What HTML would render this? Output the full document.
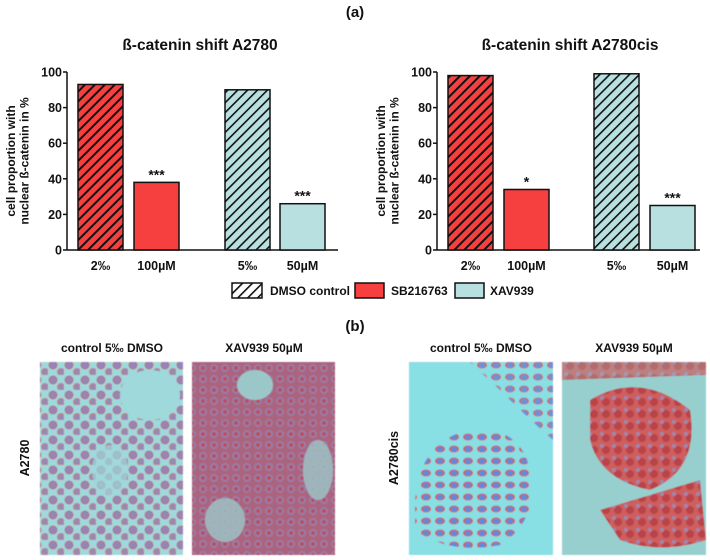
<!DOCTYPE html>
<html><head><meta charset="utf-8"><style>
html,body{margin:0;padding:0;background:#fff;}
svg{display:block;font-family:"Liberation Sans",Arial,sans-serif;}
.t{font-weight:bold;fill:#111;}
</style></head><body>
<svg id="fig" width="710" height="560" viewBox="0 0 710 560" xmlns="http://www.w3.org/2000/svg">
<defs>
<pattern id="hR" width="7" height="7" patternUnits="userSpaceOnUse" patternTransform="rotate(45)">
<rect width="7" height="7" fill="#f64040"/><rect width="2" height="7" fill="#111"/></pattern>
<pattern id="hC" width="7" height="7" patternUnits="userSpaceOnUse" patternTransform="rotate(45)">
<rect width="7" height="7" fill="#b9e0e0"/><rect width="1.6" height="7" fill="#111"/></pattern>
<pattern id="hW" width="7" height="7" patternUnits="userSpaceOnUse" patternTransform="rotate(45)">
<rect width="7" height="7" fill="#fff"/><rect width="1.6" height="7" fill="#111"/></pattern>
<pattern id="cells1" width="16" height="15" patternUnits="userSpaceOnUse">
<circle cx="5" cy="5" r="4.5" fill="#c0305a" opacity="0.8"/><circle cx="5" cy="5" r="3" fill="#8a6fb5" opacity="0.9"/>
<circle cx="13" cy="12" r="4" fill="#d0304a" opacity="0.7"/><circle cx="13" cy="12" r="2.6" fill="#9070b0" opacity="0.9"/></pattern>
<pattern id="cells2" width="11" height="11" patternUnits="userSpaceOnUse">
<rect width="11" height="11" fill="#b04a6a"/><circle cx="5" cy="5" r="4" fill="#9a6aa0"/><circle cx="5" cy="5" r="2" fill="#c03040"/></pattern>
<pattern id="cells3" width="14" height="12" patternUnits="userSpaceOnUse">
<ellipse cx="6" cy="5" rx="5" ry="3.5" fill="#e23a3a"/><ellipse cx="6" cy="5" rx="3.3" ry="2.6" fill="#5a7ad8"/></pattern>
<pattern id="cells4" width="12" height="12" patternUnits="userSpaceOnUse">
<rect width="12" height="12" fill="#d64a4a"/><circle cx="6" cy="6" r="4" fill="#c02a30"/><circle cx="2" cy="2" r="2" fill="#a07aa8"/></pattern>
<filter id="blur"><feGaussianBlur stdDeviation="0.6"/></filter>
</defs>

<text class="t" x="355" y="17" font-size="15" text-anchor="middle">(a)</text>

<g id="chartL"></g>
<g id="chartR"></g>

<g>
<rect x="232" y="283" width="30" height="15" fill="url(#hW)" stroke="#111" stroke-width="1.5"/>
<text class="t" x="270" y="295" font-size="12">DMSO control</text>
<rect x="355" y="283" width="29" height="15" fill="#f64040" stroke="#111" stroke-width="1.5"/>
<text class="t" x="391" y="295" font-size="12">SB216763</text>
<rect x="455" y="283" width="29" height="15" fill="#b9e0e0" stroke="#111" stroke-width="1.5"/>
<text class="t" x="490" y="295" font-size="12">XAV939</text>
</g>

<text class="t" x="355" y="331" font-size="15" text-anchor="middle">(b)</text>

<g font-size="12">
<text class="t" x="112" y="352" text-anchor="middle">control 5‰ DMSO</text>
<text class="t" x="264" y="352" text-anchor="middle">XAV939 50µM</text>
<text class="t" x="481" y="352" text-anchor="middle">control 5‰ DMSO</text>
<text class="t" x="634" y="352" text-anchor="middle">XAV939 50µM</text>
</g>
<text class="t" font-size="12.5" transform="translate(29,458) rotate(-90)" text-anchor="middle">A2780</text>
<text class="t" font-size="12.5" transform="translate(398,458) rotate(-90)" text-anchor="middle">A2780cis</text>

<g filter="url(#blur)">
<g>
<rect x="40" y="362" width="143" height="193" fill="#9fd9dc"/>
<rect x="40" y="362" width="143" height="193" fill="url(#cells1)" opacity="0.75"/>
<ellipse cx="150" cy="395" rx="30" ry="25" fill="#9fd9dc"/>
<ellipse cx="110" cy="470" rx="18" ry="25" fill="#9fd9dc" opacity="0.7"/>
</g>
<g>
<rect x="192" y="362" width="143" height="193" fill="#9cc7c8"/>
<rect x="192" y="362" width="143" height="193" fill="url(#cells2)" opacity="0.8"/>
<ellipse cx="255" cy="385" rx="18" ry="15" fill="#9cc7c8"/>
<ellipse cx="225" cy="520" rx="20" ry="22" fill="#9cc7c8" opacity="0.8"/>
<ellipse cx="318" cy="470" rx="15" ry="30" fill="#9cc7c8" opacity="0.8"/>
</g>
<g>
<rect x="409" y="362" width="144" height="193" fill="#88dfe4"/>
<path d="M415 500 Q420 440 470 430 Q520 425 530 470 Q540 520 500 545 Q450 555 415 530 Z" fill="url(#cells3)" opacity="0.85"/>
<path d="M470 362 L553 362 L553 440 Q530 420 500 390 Z" fill="url(#cells3)" opacity="0.75"/>
</g>
<g>
<rect x="562" y="362" width="144" height="193" fill="#97cfcf"/>
<path d="M590 400 Q640 370 690 410 Q700 470 650 490 Q600 480 590 440 Z" fill="url(#cells4)" opacity="0.85"/>
<path d="M600 510 Q650 495 700 480 L706 540 Q660 555 620 540 Z" fill="url(#cells4)" opacity="0.85"/>
<path d="M562 362 L706 362 L706 375 L562 380 Z" fill="url(#cells4)" opacity="0.6"/>
</g>
</g>

<script>
// Data arrays
const categories = ["2‰", "100µM", "5‰", "50µM"];
const valuesA2780 = [93, 38, 90, 26];
const valuesA2780cis = [98, 34, 99, 25];
const sigA2780 = ["", "***", "", "***"];
const sigA2780cis = ["", "*", "", "***"];
const yTicks = [0, 20, 40, 60, 80, 100];

const NS = "http://www.w3.org/2000/svg";
function mk(tag, attrs, parent) {
  const e = document.createElementNS(NS, tag);
  for (const k in attrs) e.setAttribute(k, attrs[k]);
  parent.appendChild(e);
  return e;
}
const fills = ["url(#hR)", "#f64040", "url(#hC)", "#b9e0e0"];
function drawChart(g, cfg, values, sig, title) {
  const y = v => cfg.y0 - (v / 100) * (cfg.y0 - cfg.y100);
  const t = mk("text", {x: cfg.titleX, y: 50, "font-size": 15.5, "text-anchor": "middle", class: "t"}, g);
  t.textContent = title;
  
  
  const yt = mk("text", {transform: `translate(${cfg.axX - 46},${(cfg.y0 + cfg.y100) / 2}) rotate(-90)`, "font-size": 12, "text-anchor": "middle", class: "t"}, g);
  
  
  const s1 = mk("tspan", {x: 0, dy: -6}, yt); s1.textContent = "cell proportion with";
  const s2 = mk("tspan", {x: 0, dy: 13.5}, yt); s2.textContent = "nuclear ß-catenin in %";
  const ax = mk("line", {x1: cfg.axX, y1: cfg.y100, x2: cfg.axX, y2: cfg.y0, stroke: "#111", "stroke-width": 1.5}, g);
  
  
  const xa = mk("line", {x1: cfg.axX, y1: cfg.y0, x2: cfg.axEnd, y2: cfg.y0, stroke: "#111", "stroke-width": 1.5}, g);
  
  
  yTicks.forEach(v => {
    const tk = mk("line", {x1: cfg.axX - 4, y1: y(v), x2: cfg.axX, y2: y(v), stroke: "#111", "stroke-width": 1.5}, g);
    
    
    const tl = mk("text", {x: cfg.axX - 5, y: y(v) + 4.5, "font-size": 12.5, "text-anchor": "end", class: "t"}, g);
    tl.textContent = v;
    
    
  });
  values.forEach((v, i) => {
    const x = cfg.barX[i];
    const r = mk("rect", {x: x, y: y(v), width: cfg.bw, height: cfg.y0 - y(v), fill: fills[i], stroke: "#111", "stroke-width": 1.5}, g);
    
    
    const cl = mk("text", {x: x + cfg.bw / 2, y: cfg.y0 + 20, "font-size": 12.5, "text-anchor": "middle", class: "t"}, g);
    cl.textContent = categories[i];
    
    
    if (sig[i]) {
      const st = mk("text", {x: x + cfg.bw / 2, y: y(v) - 3, "font-size": 14, "text-anchor": "middle", class: "t"}, g);
      st.textContent = sig[i];
      
      
    }
  });
}
drawChart(document.getElementById("chartL"),
  {axX: 67, axEnd: 338, y0: 250, y100: 72, bw: 45, barX: [78, 134, 225, 280], titleX: 200},
  valuesA2780, sigA2780, "ß-catenin shift A2780");
drawChart(document.getElementById("chartR"),
  {axX: 437, axEnd: 700, y0: 250, y100: 72, bw: 45, barX: [448, 504, 594, 650], titleX: 570},
  valuesA2780cis, sigA2780cis, "ß-catenin shift A2780cis");
</script>
</svg>
</body></html>
